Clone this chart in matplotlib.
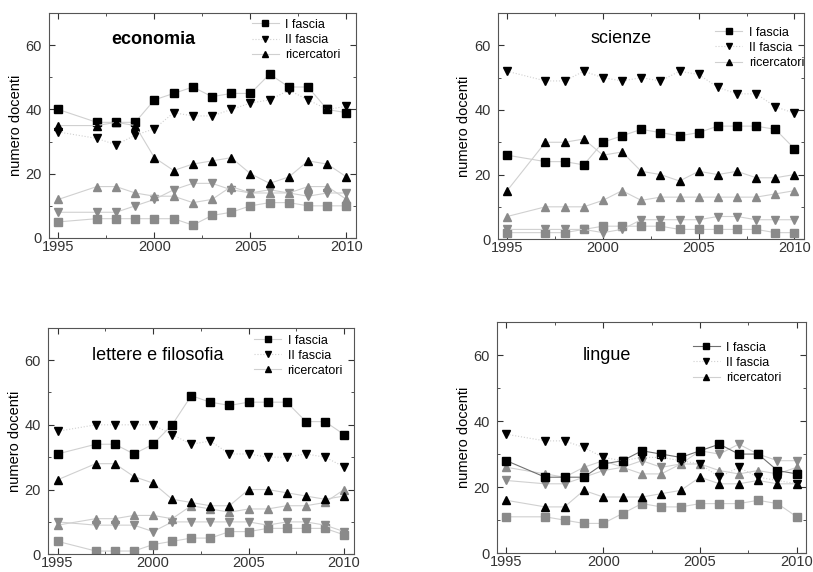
import matplotlib.pyplot as plt
from matplotlib.ticker import MultipleLocator

plt.rcParams['font.family'] = ['Liberation Sans', 'DejaVu Sans']

years = [1995, 1997, 1998, 1999, 2000, 2001, 2002, 2003, 2004, 2005, 2006, 2007, 2008, 2009, 2010]
series_names = ['I fascia', 'II fascia', 'ricercatori']

# economia
eco_black = {
    'I fascia': [40, 36, 36, 36, 43, 45, 47, 44, 45, 45, 51, 47, 47, 40, 39],
    'II fascia': [33, 31, 29, 32, 34, 39, 38, 38, 40, 42, 43, 46, 43, 40, 41],
    'ricercatori': [35, 35, 36, 35, 25, 21, 23, 24, 25, 20, 17, 19, 24, 23, 19],
}
eco_gray = {
    'I fascia': [5, 6, 6, 6, 6, 6, 4, 7, 8, 10, 11, 11, 10, 10, 10],
    'II fascia': [8, 8, 8, 10, 12, 15, 17, 17, 15, 14, 15, 14, 13, 14, 14],
    'ricercatori': [12, 16, 16, 14, 13, 13, 11, 12, 16, 14, 14, 14, 16, 16, 12],
}

# scienze
sci_black = {
    'I fascia': [26, 24, 24, 23, 30, 32, 34, 33, 32, 33, 35, 35, 35, 34, 28],
    'II fascia': [52, 49, 49, 52, 50, 49, 50, 49, 52, 51, 47, 45, 45, 41, 39],
    'ricercatori': [15, 30, 30, 31, 26, 27, 21, 20, 18, 21, 20, 21, 19, 19, 20],
}
sci_gray = {
    'I fascia': [2, 2, 2, 3, 4, 4, 4, 4, 3, 3, 3, 3, 3, 2, 2],
    'II fascia': [3, 3, 3, 3, 2, 3, 6, 6, 6, 6, 7, 7, 6, 6, 6],
    'ricercatori': [7, 10, 10, 10, 12, 15, 12, 13, 13, 13, 13, 13, 13, 14, 15],
}

# lettere e filosofia
let_black = {
    'I fascia': [31, 34, 34, 31, 34, 40, 49, 47, 46, 47, 47, 47, 41, 41, 37],
    'II fascia': [38, 40, 40, 40, 40, 37, 34, 35, 31, 31, 30, 30, 31, 30, 27],
    'ricercatori': [23, 28, 28, 24, 22, 17, 16, 15, 15, 20, 20, 19, 18, 17, 18],
}
let_gray = {
    'I fascia': [4, 1, 1, 1, 3, 4, 5, 5, 7, 7, 8, 8, 8, 8, 6],
    'II fascia': [10, 9, 9, 9, 7, 10, 10, 10, 10, 10, 9, 10, 10, 9, 7],
    'ricercatori': [9, 11, 11, 12, 12, 11, 15, 14, 13, 14, 14, 15, 15, 16, 20],
}

# lingue
lin_black = {
    'I fascia': [28, 23, 23, 23, 27, 28, 31, 30, 29, 31, 33, 30, 30, 25, 24],
    'II fascia': [36, 34, 34, 32, 29, 28, 29, 29, 28, 27, 23, 26, 23, 22, 21],
    'ricercatori': [16, 14, 14, 19, 17, 17, 17, 18, 19, 23, 21, 21, 22, 21, 21],
}
lin_gray = {
    'I fascia': [11, 11, 10, 9, 9, 12, 15, 14, 14, 15, 15, 15, 16, 15, 11],
    'II fascia': [22, 21, 21, 23, 25, 26, 28, 26, 27, 31, 30, 33, 30, 28, 28],
    'ricercatori': [26, 24, 23, 26, 28, 26, 24, 24, 27, 27, 25, 24, 25, 24, 26],
}

# title, black data, gray data, title weight, axes rect, title pos, legend anchor, I fascia line colour
panels = [
    ('economia', eco_black, eco_gray, 'bold', [0.060, 0.584, 0.378, 0.393],
     (0.202, 0.885), (0.95, 0.975), '#d0d0d0'),
    ('scienze', sci_black, sci_gray, 'normal', [0.612, 0.582, 0.377, 0.395],
     (0.304, 0.89), (1.0, 0.94), '#d0d0d0'),
    ('lettere e filosofia', let_black, let_gray, 'normal', [0.059, 0.031, 0.376, 0.396],
     (0.144, 0.878), (0.965, 0.97), '#d0d0d0'),
    ('lingue', lin_black, lin_gray, 'normal', [0.611, 0.033, 0.381, 0.404],
     (0.277, 0.855), (0.92, 0.915), '#707070'),
]

markers = {'I fascia': 's', 'II fascia': 'v', 'ricercatori': '^'}
line_col = '#d0d0d0'


def main():
    fig = plt.figure(figsize=(8.13, 5.72), dpi=100)

    for title, black, gray, weight, rect, tpos, lpos, first_col in panels:
        ax = fig.add_axes(rect)
        # gray (lower) series first, then black ones
        for name in series_names:
            ax.plot(years, gray[name], color=line_col, lw=0.8,
                    marker=markers[name], ms=5.5, mfc='#8a8a8a', mec='#8a8a8a')
        for name in series_names:
            col = first_col if name == 'I fascia' else line_col
            ax.plot(years, black[name], color=col, lw=0.8, ls=':' if name == 'II fascia' else '-',
                    marker=markers[name], ms=5.5, mfc='black', mec='black', label=name)

        ax.set_xlim(1994.5, 2010.5)
        ax.set_ylim(0, 70)
        ax.xaxis.set_major_locator(MultipleLocator(5))
        ax.xaxis.set_minor_locator(MultipleLocator(2.5))
        ax.yaxis.set_major_locator(MultipleLocator(20))
        ax.yaxis.set_minor_locator(MultipleLocator(10))
        ax.tick_params(which='both', direction='in', top=True, right=True,
                       labelsize=10.5, colors='#333333')
        ax.tick_params(axis='x', pad=1.5)
        ax.tick_params(axis='y', pad=5)
        ax.tick_params(which='major', length=4)
        ax.tick_params(which='minor', length=2.5)
        for sp in ax.spines.values():
            sp.set_color('#555555')
        ax.set_ylabel('numero docenti', fontsize=10.5, labelpad=2)
        ax.text(tpos[0], tpos[1], title, transform=ax.transAxes, fontsize=13,
                fontweight=weight, va='center')
        ax.legend(loc='upper right', bbox_to_anchor=lpos, frameon=False, fontsize=9,
                  handlelength=2.2, handletextpad=0.5, labelspacing=0.25,
                  borderaxespad=0, borderpad=0, markerscale=0.8)

    fig.savefig('out.png', dpi=100)


if __name__ == '__main__':
    main()
